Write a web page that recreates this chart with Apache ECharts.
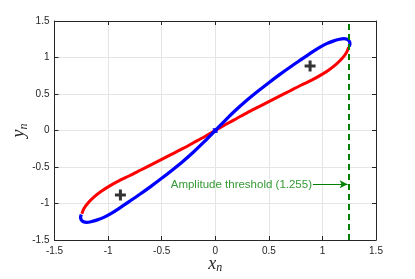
<!DOCTYPE html>
<html><head><meta charset="utf-8">
<script src="https://cdn.jsdelivr.net/npm/echarts@6/dist/echarts.min.js"></script>
<style>html,body{margin:0;padding:0;background:#fff}#c{width:415px;height:279px}</style>
</head><body><div id="c"></div>
<script>
// Red path: lower-left tip -> origin -> upper-right tip
var redX = [-1.245,-1.225,-1.185,-1.13,-1.06,-0.98,-0.9,-0.8,-0.7,-0.6,-0.5,-0.4,-0.3,-0.2,-0.1,0,0.1,0.2,0.3,0.4,0.5,0.6,0.7,0.8,0.9,0.98,1.06,1.13,1.185,1.225,1.245];
var redY = [-1.14,-1.07,-0.99,-0.91,-0.83,-0.755,-0.69,-0.62,-0.545,-0.47,-0.395,-0.32,-0.245,-0.165,-0.085,0,0.085,0.165,0.245,0.32,0.395,0.47,0.545,0.62,0.69,0.755,0.83,0.91,0.99,1.07,1.14];
// Blue path: upper-right tip -> origin -> lower-left tip
var blueX = [1.25,1.257,1.25,1.23,1.2,1.16,1.1,1.04,0.97,0.9,0.8,0.7,0.6,0.5,0.4,0.3,0.2,0.1,0,-0.1,-0.2,-0.3,-0.4,-0.5,-0.6,-0.7,-0.8,-0.9,-0.97,-1.04,-1.1,-1.16,-1.2,-1.23,-1.25,-1.257,-1.25];
var blueY = [1.15,1.19,1.225,1.25,1.258,1.25,1.225,1.19,1.135,1.07,0.97,0.87,0.765,0.655,0.54,0.42,0.29,0.15,0,-0.15,-0.29,-0.42,-0.54,-0.655,-0.765,-0.87,-0.97,-1.07,-1.135,-1.19,-1.225,-1.25,-1.258,-1.25,-1.225,-1.19,-1.15];
var centersX = [0.885,-0.885];
var centersY = [0.885,-0.885];
var threshold = 1.255;
var annotText = 'Amplitude threshold (1.255)';
var annotPoint = [0.912,-0.738];

function pairs(xs, ys){ return xs.map(function(x,i){return [x, ys[i]];}); }
var green = '#008000';
var axisCol = '#262626';
var base = {min:-1.5,max:1.5,interval:0.5};
var nameRich = {v:{fontFamily:'Liberation Serif',fontStyle:'italic',fontSize:18,color:axisCol},
                s:{fontFamily:'Liberation Serif',fontStyle:'italic',fontSize:12,color:axisCol,padding:[8,0,0,0]}};
var chart = echarts.init(document.getElementById('c'));
chart.setOption({
  animation:false,
  grid:{left:54.5,right:39,top:21,bottom:39,containLabel:false,outerBoundsMode:'none'},
  xAxis:[
    Object.assign({type:'value',position:'bottom',
      axisLine:{onZero:false,lineStyle:{color:axisCol,width:1}},
      axisTick:{inside:true,length:4,lineStyle:{color:axisCol}},
      axisLabel:{color:axisCol,fontSize:10,fontFamily:'Liberation Sans',margin:6},
      splitLine:{show:true,lineStyle:{color:'#e5e5e5',width:1}},
      name:'{v|x}{s|n}',nameLocation:'middle',nameGap:14,nameMoveOverlap:false,
      nameTextStyle:{rich:nameRich}
    },base),
    Object.assign({type:'value',position:'top',
      axisLine:{onZero:false,lineStyle:{color:axisCol,width:1}},
      axisTick:{inside:true,length:4,lineStyle:{color:axisCol}},
      axisLabel:{show:false},splitLine:{show:false}},base)
  ],
  yAxis:[
    Object.assign({type:'value',position:'left',
      axisLine:{onZero:false,show:true,lineStyle:{color:axisCol,width:1}},
      axisTick:{show:true,inside:true,length:4,lineStyle:{color:axisCol}},
      axisLabel:{color:axisCol,fontSize:10,fontFamily:'Liberation Sans',margin:5},
      splitLine:{show:true,lineStyle:{color:'#e5e5e5',width:1}},
      name:'{v|y}{s|n}',nameLocation:'middle',nameGap:25,nameRotate:90,nameMoveOverlap:false,
      nameTextStyle:{rich:nameRich}
    },base),
    Object.assign({type:'value',position:'right',
      axisLine:{onZero:false,show:true,lineStyle:{color:axisCol,width:1}},
      axisTick:{show:true,inside:true,length:4,lineStyle:{color:axisCol}},
      axisLabel:{show:false},splitLine:{show:false}},base)
  ],
  series:[
    {type:'line',data:pairs(redX,redY),smooth:0.25,showSymbol:false,symbol:'none',
     lineStyle:{color:'#ff0000',width:3},z:3},
    {type:'line',data:pairs(blueX,blueY),smooth:0.25,showSymbol:false,symbol:'none',
     lineStyle:{color:'#0000ff',width:3.3},z:4},
    {type:'scatter',data:[[0,0]],symbol:'rect',symbolSize:5,itemStyle:{color:'#0000ff'},z:5},
    {type:'scatter',data:pairs(centersX,centersY),
     symbol:'path://M4,0L7,0L7,4L11,4L11,7L7,7L7,11L4,11L4,7L0,7L0,4L4,4Z',symbolSize:11,
     itemStyle:{color:'#000'},z:6},
    {type:'scatter',data:[annotPoint],symbolSize:0,z:6,
     label:{show:true,position:'left',distance:1,formatter:annotText,color:green,fontSize:11.5,fontFamily:'Liberation Sans'},
     markLine:{silent:true,symbol:['none','arrow'],symbolSize:[6,8],
       lineStyle:{color:green,width:1,type:'solid'},label:{show:false},
       data:[[{coord:annotPoint},{coord:[threshold-0.02,annotPoint[1]]}]]}},
    {type:'line',data:[],markLine:{silent:true,symbol:['none','none'],
       lineStyle:{color:green,width:2,type:[6,4]},label:{show:false},
       data:[{xAxis:threshold}]},z:5}
  ]
});
</script></body></html>
